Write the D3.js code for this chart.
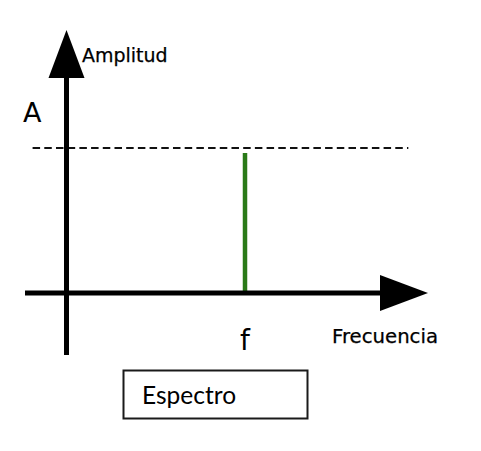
<!DOCTYPE html>
<html>
<head>
<meta charset="utf-8">
<script src="https://cdn.jsdelivr.net/npm/d3@7"></script>
<style>
html, body { margin: 0; padding: 0; background: #fff; }
svg { display: block; }
</style>
</head>
<body>
<script>
// ---- data ----
const frequencies = ["f"];          // category labels on the frequency axis
const freqValues = [1];             // position of the spectral line
const amplitudes = [0.965];         // height of the spectral line
const referenceLevels = [1];        // dashed amplitude level
const referenceLabels = ["A"];
const axisTitles = ["Amplitud", "Frecuencia"];
const captionText = ["Espectro"];

const W = 481, H = 451;
const svg = d3.select("body").append("svg").attr("width", W).attr("height", H);

const x = d3.scaleLinear().domain([0, 1]).range([66.5, 245]);
const y = d3.scaleLinear().domain([0, 1]).range([293, 148]);

// dashed reference line
svg.selectAll("line.ref").data(referenceLevels).join("line")
  .attr("class", "ref")
  .attr("x1", x(-0.19)).attr("x2", x(1.915))
  .attr("y1", d => y(d)).attr("y2", d => y(d))
  .attr("stroke", "#111").attr("stroke-width", 1.9)
  .attr("stroke-dasharray", "7.5,4.2");

// spectral line
svg.selectAll("line.spec").data(freqValues).join("line")
  .attr("class", "spec")
  .attr("x1", d => x(d)).attr("x2", d => x(d))
  .attr("y1", y(0)).attr("y2", (d, i) => y(amplitudes[i]))
  .attr("stroke", "#2a7a18").attr("stroke-width", 4.5);

// vertical axis
svg.append("line")
  .attr("x1", x(0)).attr("x2", x(0))
  .attr("y1", 355).attr("y2", 76)
  .attr("stroke", "#000").attr("stroke-width", 5);
svg.append("path")
  .attr("d", `M${x(0)},30 L${x(0) - 18},78 L${x(0) + 18},78 Z`)
  .attr("fill", "#000");

// horizontal axis
svg.append("line")
  .attr("x1", 25).attr("x2", 382)
  .attr("y1", y(0)).attr("y2", y(0))
  .attr("stroke", "#000").attr("stroke-width", 5);
svg.append("path")
  .attr("d", `M428,${y(0)} L380,${y(0) - 18} L380,${y(0) + 18} Z`)
  .attr("fill", "#000");

// labels
const font = "'DejaVu Sans', Verdana, sans-serif";
svg.append("text").attr("x", 82).attr("y", 62)
  .attr("font-family", font).attr("font-size", 19).attr("fill", "#000")
  .attr("stroke", "#000").attr("stroke-width", 0.25)
  .text(axisTitles[0]);
svg.append("text").attr("x", 332).attr("y", 343)
  .attr("font-family", font).attr("font-size", 19).attr("fill", "#000")
  .attr("stroke", "#000").attr("stroke-width", 0.25)
  .attr("textLength", 106).attr("lengthAdjust", "spacingAndGlyphs")
  .text(axisTitles[1]);

svg.selectAll("text.ref").data(referenceLevels).join("text")
  .attr("class", "ref")
  .attr("x", 23).attr("y", d => y(d) - 26.5)
  .attr("font-family", font).attr("font-size", 27).attr("fill", "#000")
  .text((d, i) => referenceLabels[i]);

svg.selectAll("text.freq").data(freqValues).join("text")
  .attr("class", "freq")
  .attr("x", d => x(d)).attr("y", 350)
  .attr("text-anchor", "middle")
  .attr("font-family", font).attr("font-size", 28).attr("fill", "#000")
  .text((d, i) => frequencies[i]);

// caption box
svg.append("rect")
  .attr("x", 123.5).attr("y", 370.5).attr("width", 184).attr("height", 48)
  .attr("fill", "#fff").attr("stroke", "#1a1a1a").attr("stroke-width", 2);
svg.append("text").attr("x", 142).attr("y", 404)
  .attr("font-family", "Lato, 'Open Sans', sans-serif").attr("font-size", 24.5).attr("fill", "#000")
  .text(captionText[0]);
</script>
</body>
</html>
